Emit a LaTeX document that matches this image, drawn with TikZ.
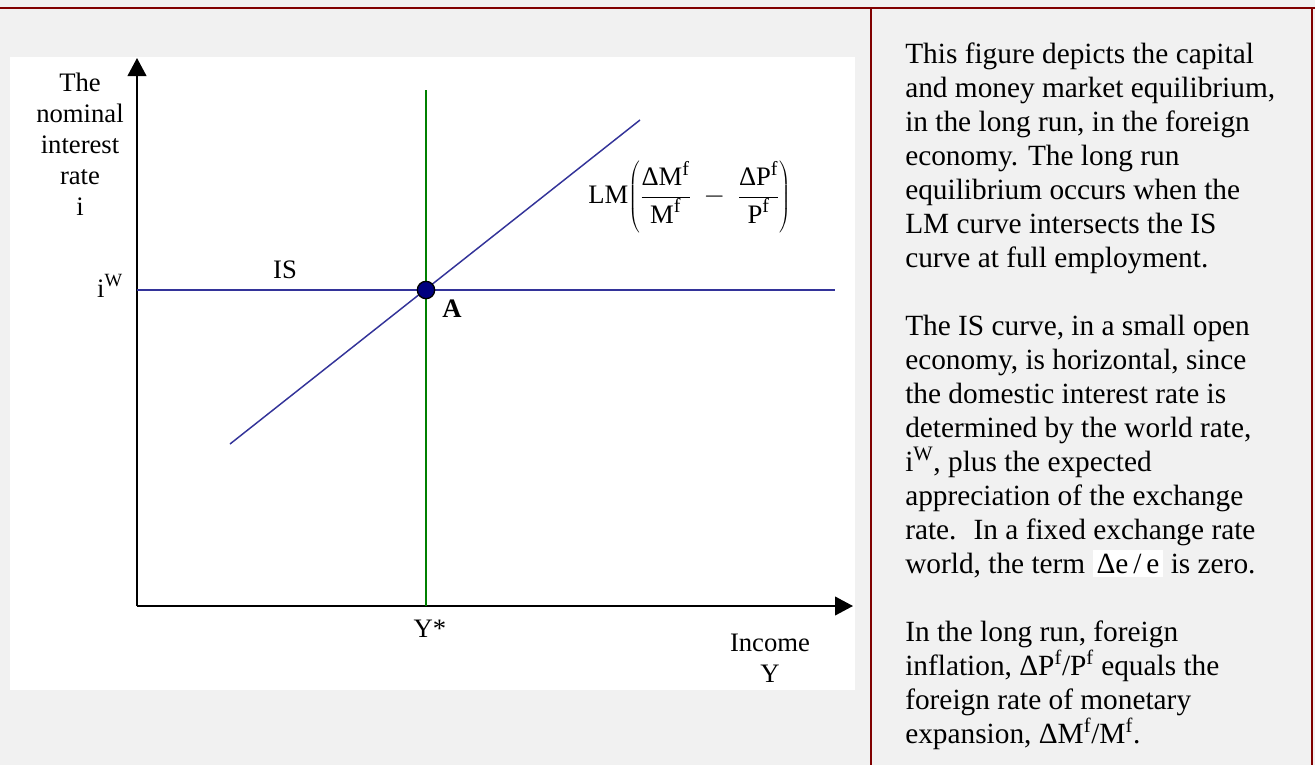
\documentclass[tikz,border=0pt]{standalone}
\usepackage{fontspec}
\setmainfont{Liberation Serif}
\usetikzlibrary{arrows.meta}

\definecolor{pagegray}{HTML}{F1F1F1}
\definecolor{framered}{HTML}{800000}
\definecolor{curveblue}{HTML}{333399}
\definecolor{ystargreen}{HTML}{008000}
\definecolor{dotblue}{HTML}{00007F}
\newcommand{\supf}{\mbox{\fontsize{15}{15}\selectfont f}}

\begin{document}
\begin{tikzpicture}[x=0.75pt, y=-0.75pt,
  lbl/.style={inner sep=0pt, font=\fontsize{20}{23.25}\selectfont},
  axis/.style={line width=1.5pt, -{Triangle[length=13.5pt,width=14pt]}},
  curve/.style={line width=1.1pt, color=curveblue}]

  \useasboundingbox (0,0) rectangle (1315,765);

  \def\ystar{426}
  \def\iw{290}
  \def\ox{137}
  \def\oy{606}

  % page and table frame
  \fill[pagegray] (0,0) rectangle (1315,765);
  \fill[white] (10,57) rectangle (855,690);
  \draw[framered, line width=1.5pt] (0,8) -- (1315,8);
  \draw[framered, line width=1.5pt] (871,8) -- (871,765);
  \draw[framered, line width=1.5pt] (1312,8) -- (1312,765);

  % axes
  \coordinate (O) at (\ox,\oy);
  \coordinate (ytip) at (\ox,58);
  \coordinate (xtip) at (853,\oy);
  \draw[axis] (O) -- (ytip);
  \draw[axis] (O) -- (xtip);

  % curves
  \coordinate (Ytop) at (\ystar,90);
  \coordinate (Ybot) at (\ystar,\oy);
  \coordinate (ISl) at (\ox,\iw);
  \coordinate (ISr) at (835,\iw);
  \coordinate (LMl) at (230,444);
  \coordinate (LMr) at (640,120);
  \draw[line width=1.1pt, ystargreen] (Ybot) -- (Ytop);
  \draw[curve] (ISl) -- (ISr);
  \draw[curve] (LMl) -- (LMr);

  % equilibrium point
  \node[circle, draw=black, line width=1pt, fill=dotblue, minimum size=13pt,
    inner sep=0pt] (A) at (\ystar,\iw) {};
  \node[lbl, font=\fontsize{20}{23.25}\selectfont\bfseries, anchor=base]
    (Albl) at (452,317) {A};

  % labels (base = last line)
  \node[lbl, align=center, anchor=base] (ylbl) at (80,215)
    {The\\nominal\\interest\\rate\\i};
  \node[lbl, anchor=base] (iwlbl) at (110,297) {i\textsuperscript{W}};
  \node[lbl, anchor=base] (islbl) at (285,278) {IS};
  \node[lbl, anchor=base] (yslbl) at (430,637) {Y*};
  \node[lbl, align=center, anchor=base] (xlbl) at (770,682) {Income\\Y};
  \node[lbl, anchor=west] (lmlbl) at (588,197)
    {LM$\displaystyle\left(\frac{\mbox{ΔM}^{\supf}}{\mbox{M}^{\supf}}
      \mkern4mu-\mkern4mu \frac{\mbox{ΔP}^{\supf}}{\mbox{P}^{\supf}}\right)$};

  % explanation
  \node[inner sep=0pt, anchor=base west, align=left,
    font=\fontsize{22}{25.5}\selectfont] (note) at (905,743)
    {This figure depicts the capital\\
     and money market equilibrium,\\
     in the long run, in the foreign\\
     economy. The long run\\
     equilibrium occurs when the\\
     LM curve intersects the IS\\
     curve at full employment.\\[25.5pt]
     The IS curve, in a small open\\
     economy, is horizontal, since\\
     the domestic interest rate is\\
     determined by the world rate,\\
     i\textsuperscript{W}, plus the expected\\
     appreciation of the exchange\\
     rate.~ In a fixed exchange rate\\
     world, the term {\fboxsep=3pt\colorbox{white}{Δe\,/\,e}} is zero.\\[25.5pt]
     In the long run, foreign\\
     inflation, ΔP\textsuperscript{f}/P\textsuperscript{f} equals the\\
     foreign rate of monetary\\
     expansion, ΔM\textsuperscript{f}/M\textsuperscript{f}.};
\end{tikzpicture}
\end{document}
